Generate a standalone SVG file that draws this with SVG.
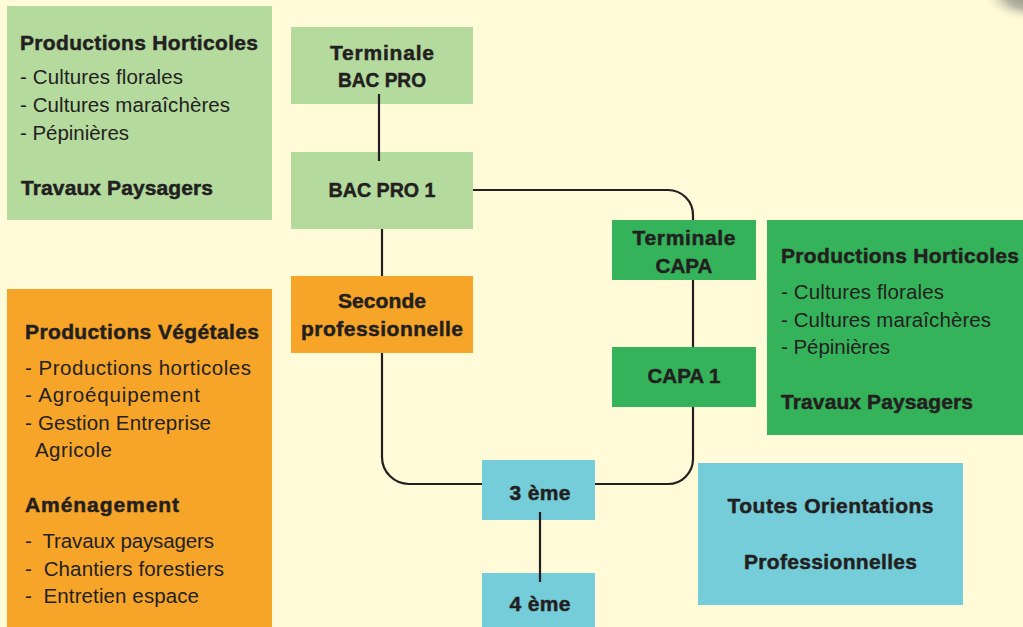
<svg xmlns="http://www.w3.org/2000/svg" width="1023" height="627" viewBox="0 0 1023 627">
<defs>
<radialGradient id="shadow" cx="0.5" cy="0.5" r="0.5">
<stop offset="0" stop-color="#8a8a80" stop-opacity="1"/>
<stop offset="0.5" stop-color="#9a9a8e" stop-opacity="0.7"/>
<stop offset="1" stop-color="#fff9d8" stop-opacity="0"/>
</radialGradient>
</defs>
<style>
text{font-family:"Liberation Sans",Arial,sans-serif;fill:#231F20}
.h{font-weight:bold;font-size:21px;stroke:#231F20;stroke-width:0.5}
.r{font-size:20.5px}
.p{white-space:pre}
.n{font-weight:bold;font-size:21px;text-anchor:middle;stroke:#231F20;stroke-width:0.5}
.lg{fill:#B5DA9E}
.or{fill:#F6A528}
.gr{fill:#35B35A}
.cy{fill:#74CDD9}
.c{fill:none;stroke:#231F20;stroke-width:2.2}
</style>
<rect width="1023" height="627" fill="#FFFAD8"/>
<ellipse cx="1030" cy="-4" rx="48" ry="26" fill="url(#shadow)"/>

<g id="info-horticoles-bacpro">
<rect class="lg" x="7" y="6" width="265" height="214"/>
<text class="h" x="20" y="50" textLength="238">Productions Horticoles</text>
<text class="r" x="20" y="84" textLength="163">- Cultures florales</text>
<text class="r" x="20" y="112" textLength="210">- Cultures maraîchères</text>
<text class="r" x="20" y="140" textLength="109">- Pépinières</text>
<text class="h" x="21" y="195" textLength="192">Travaux Paysagers</text>
</g>

<g id="info-vegetales">
<rect class="or" x="7" y="289" width="265" height="338"/>
<text class="h" x="25" y="339" textLength="234">Productions Végétales</text>
<text class="r" x="25" y="375" textLength="226">- Productions horticoles</text>
<text class="r" x="25" y="402" textLength="175">- Agroéquipement</text>
<text class="r" x="25" y="430" textLength="186">- Gestion Entreprise</text>
<text class="r" x="35" y="457" textLength="77">Agricole</text>
<text class="h" x="25" y="512" textLength="154">Aménagement</text>
<text class="r p" x="25" y="548" textLength="189">-  Travaux paysagers</text>
<text class="r p" x="25" y="576" textLength="199">-  Chantiers forestiers</text>
<text class="r p" x="25" y="603" textLength="174">-  Entretien espace</text>
</g>

<g id="info-horticoles-capa">
<rect class="gr" x="767" y="220" width="256" height="215"/>
<text class="h" x="781" y="263" textLength="238">Productions Horticoles</text>
<text class="r" x="781" y="299" textLength="163">- Cultures florales</text>
<text class="r" x="781" y="327" textLength="210">- Cultures maraîchères</text>
<text class="r" x="781" y="354" textLength="109">- Pépinières</text>
<text class="h" x="781" y="409" textLength="192">Travaux Paysagers</text>
</g>

<g id="toutes-orientations">
<rect class="cy" x="698" y="463" width="265" height="142"/>
<text class="n" x="830.5" y="513" textLength="206">Toutes Orientations</text>
<text class="n" x="830.5" y="569" textLength="173">Professionnelles</text>
</g>

<g id="connectors">
<path class="c" d="M382 228V276"/>
<path class="c" d="M473 190H668A25 25 0 0 1 693 215V220"/>
<path class="c" d="M693 280V347"/>
<path class="c" d="M693 407V459A25 25 0 0 1 668 484H595"/>
<path class="c" d="M382 353V457A27 27 0 0 0 409 484H482"/>
</g>

<g id="terminale-bacpro">
<rect class="lg" x="291" y="27" width="182" height="77"/>
<text class="n" x="382" y="60" textLength="104">Terminale</text>
<text class="n" x="382" y="87" textLength="88" lengthAdjust="spacingAndGlyphs">BAC PRO</text>
</g>

<g id="bacpro1">
<rect class="lg" x="291" y="152" width="182" height="77"/>
<text class="n" x="382" y="197" textLength="107" lengthAdjust="spacingAndGlyphs">BAC PRO 1</text>
</g>

<g id="seconde-pro">
<rect class="or" x="291" y="276" width="182" height="77"/>
<text class="n" x="382" y="308" textLength="88">Seconde</text>
<text class="n" x="382" y="336" textLength="162">professionnelle</text>
</g>

<g id="terminale-capa">
<rect class="gr" x="612" y="220" width="144" height="60"/>
<text class="n" x="684" y="245" textLength="103">Terminale</text>
<text class="n" x="684" y="273" textLength="57" lengthAdjust="spacingAndGlyphs">CAPA</text>
</g>

<g id="capa1">
<rect class="gr" x="612" y="347" width="144" height="60"/>
<text class="n" x="684" y="383" textLength="73" lengthAdjust="spacingAndGlyphs">CAPA 1</text>
</g>

<g id="troisieme">
<rect class="cy" x="482" y="460" width="113" height="60"/>
<text class="n" x="540" y="500" textLength="61">3 ème</text>
</g>

<g id="quatrieme">
<rect class="cy" x="482" y="573" width="113" height="54"/>
<text class="n" x="540" y="611" textLength="61">4 ème</text>
</g>

<g id="connectors-over">
<path class="c" d="M379 94V161"/>
<path class="c" d="M540 512V582"/>
</g>
</svg>
